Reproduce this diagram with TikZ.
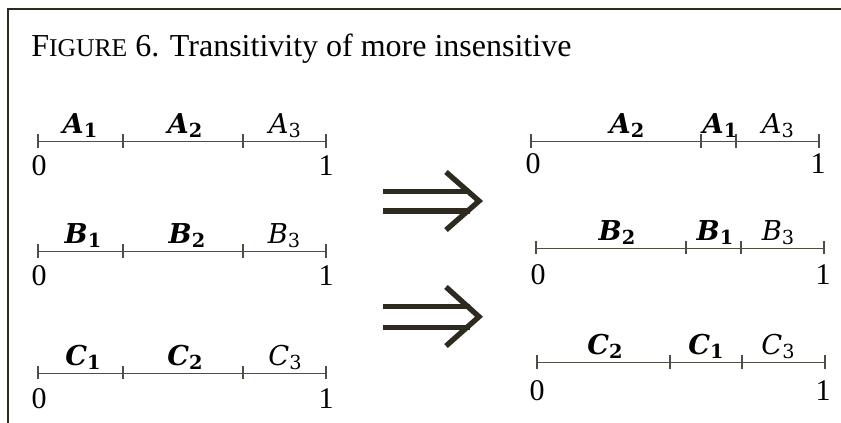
\documentclass[tikz,border=0pt]{standalone}
\usepackage{fontspec}
\setmainfont{Liberation Serif}
\newfontfamily\lblfont{DejaVu Serif}
\definecolor{ink}{RGB}{46,42,32}
\definecolor{axis}{RGB}{80,78,68}
\newcommand\bsym[2]{{\lblfont\bfseries\itshape\fontsize{20.5}{20.5}\selectfont #1}\raisebox{-3pt}{\lblfont\bfseries\fontsize{14.5}{14.5}\selectfont #2}}
\newcommand\rsym[2]{{\lblfont\itshape\fontsize{20.5}{20.5}\selectfont #1}\raisebox{-3pt}{\lblfont\fontsize{14.5}{14.5}\selectfont #2}}
\newcommand\nline[6]{%
  \coordinate (#1s) at (#3,#2);
  \coordinate (#1a) at (#4,#2);
  \coordinate (#1b) at (#5,#2);
  \coordinate (#1e) at (#6,#2);
  \draw[axisline] (#1s) -- (#1e);
  \foreach \p in {#1s,#1a,#1b,#1e} \draw[axisline] ([yshift=5.5pt]\p.center) -- ([yshift=-4.5pt]\p.center);
}
\tikzset{
  axisline/.style={draw=axis, line width=1pt},
  lab/.style={anchor=base, inner sep=0pt, text=black},
  digit/.style={anchor=base, inner sep=0pt, font=\fontsize{22.5}{22.5}\selectfont},
  bigarrow/.style={draw=ink, line width=4pt},
  frame/.style={draw=ink, line width=1.9pt}
}
\begin{document}
\begin{tikzpicture}[x=0.75pt,y=-0.75pt]
\useasboundingbox (0,0) rectangle (841,422);
\coordinate (fb) at (8,423);
\coordinate (fc) at (8,9);
\coordinate (fr) at (842,9);
\draw[frame] (fb) -- (fc) -- (fr);
\node[anchor=base west, inner sep=0pt] (title) at (31,56) {\fontsize{24}{24}\selectfont F{\fontsize{19.2}{19.2}\selectfont IGURE} 6. Transitivity of more insensitive};
% left lines
\nline{LA}{141.5}{38}{123}{243}{326}
\nline{LB}{251.5}{38}{123}{243}{326}
\nline{LC}{373.3}{38}{123}{243}{326}
% right lines
\nline{RA}{141.5}{531}{701}{736}{819}
\nline{RB}{248.3}{536}{686}{741}{824}
\nline{RC}{362.7}{537}{670}{742}{825}
% left labels
\node[lab] (la1) at (80,133) {\bsym{A}{1}};
\node[lab] (la2) at (185,133) {\bsym{A}{2}};
\node[lab] (la3) at (285,133) {\rsym{A}{3}};
\node[lab] (lb1) at (83,243) {\bsym{B}{1}};
\node[lab] (lb2) at (187,243) {\bsym{B}{2}};
\node[lab] (lb3) at (284,243) {\rsym{B}{3}};
\node[lab] (lc1) at (83,365) {\bsym{C}{1}};
\node[lab] (lc2) at (185,365) {\bsym{C}{2}};
\node[lab] (lc3) at (285,365) {\rsym{C}{3}};
% right labels
\node[lab] (ra2) at (627,133) {\bsym{A}{2}};
\node[lab] (ra1) at (720,133) {\bsym{A}{1}};
\node[lab] (ra3) at (778,133) {\rsym{A}{3}};
\node[lab] (rb2) at (617,240) {\bsym{B}{2}};
\node[lab] (rb1) at (715,240) {\bsym{B}{1}};
\node[lab] (rb3) at (778,240) {\rsym{B}{3}};
\node[lab] (rc2) at (605,354.5) {\bsym{C}{2}};
\node[lab] (rc1) at (706,354.5) {\bsym{C}{1}};
\node[lab] (rc3) at (778,354.5) {\rsym{C}{3}};
% digits
\node[digit] (la0) at (39,175) {0};
\node[digit] (laI) at (326,175) {1};
\node[digit] (lb0) at (39,285) {0};
\node[digit] (lbI) at (326,285) {1};
\node[digit] (lc0) at (39,408) {0};
\node[digit] (lcI) at (326,408) {1};
\node[digit] (ra0) at (533,173) {0};
\node[digit] (raI) at (818,173) {1};
\node[digit] (rb0) at (538,284) {0};
\node[digit] (rbI) at (823,284) {1};
\node[digit] (rc0) at (537,400) {0};
\node[digit] (rcI) at (823,400) {1};
% arrows
\coordinate (a1u) at (383,191.7); \coordinate (a1ue) at (470,191.7);
\coordinate (a1d) at (383,211); \coordinate (a1de) at (470,211);
\coordinate (a1t) at (479,201); \coordinate (a1h) at (446,172); \coordinate (a1l) at (446,230);
\draw[bigarrow] (a1u) -- (a1ue);
\draw[bigarrow] (a1d) -- (a1de);
\draw[bigarrow, miter limit=10] (a1h) -- (a1t) -- (a1l);
\coordinate (a2u) at (383,306.7); \coordinate (a2ue) at (470,306.7);
\coordinate (a2d) at (383,327.3); \coordinate (a2de) at (470,327.3);
\coordinate (a2t) at (479,316.7); \coordinate (a2h) at (446,287); \coordinate (a2l) at (446,346);
\draw[bigarrow] (a2u) -- (a2ue);
\draw[bigarrow] (a2d) -- (a2de);
\draw[bigarrow, miter limit=10] (a2h) -- (a2t) -- (a2l);
\end{tikzpicture}
\end{document}
